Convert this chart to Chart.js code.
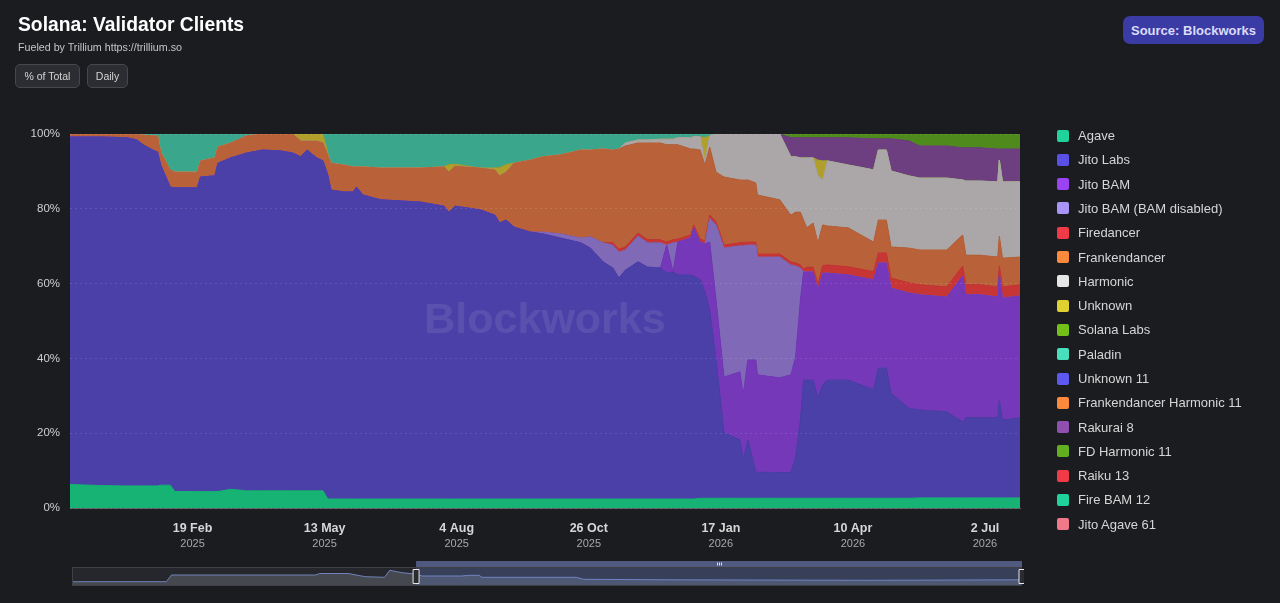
<!DOCTYPE html>
<html>
<head>
<meta charset="utf-8">
<title>Solana: Validator Clients</title>
<script src="https://cdn.jsdelivr.net/npm/chart.js@4.4.1/dist/chart.umd.min.js"></script>
<style>
  html, body { margin: 0; padding: 0; background: #1b1c20; }
  body { width: 1280px; height: 603px; position: relative; overflow: hidden; font-family: "Liberation Sans", Arial, sans-serif; }
  #main { position: absolute; left: 0; top: 0; }
  #nav { position: absolute; left: 72px; top: 558px; }
  .title { position: absolute; left: 18px; top: 14.7px; font-size: 19.3px; line-height: 1; font-weight: bold; color: #fff; white-space: nowrap; }
  .sub { position: absolute; left: 18px; top: 41.7px; font-size: 10.7px; line-height: 1; color: #c4c4c4; white-space: nowrap; }
  .btn { position: absolute; top: 64px; height: 24px; box-sizing: border-box; border: 1px solid #46484e; background: #2b2d32; border-radius: 5px; color: #d4d4d4; font-size: 10.5px; display: flex; align-items: center; justify-content: center; }
  .source { position: absolute; left: 1123px; top: 16px; width: 141px; height: 28px; background: #3b3ba6; border-radius: 7px; color: #dcdcfa; font-weight: bold; font-size: 13px; display: flex; align-items: center; justify-content: center; }
  #legend { position: absolute; left: 1057px; top: 123.4px; }
  .item { height: 24.3px; display: flex; align-items: center; font-size: 13px; color: #d6d6d6; white-space: nowrap; }
  .box { width: 12px; height: 12px; border-radius: 2px; margin-right: 9px; flex: none; }
</style>
</head>
<body>
<canvas id="main" width="1280" height="603"></canvas>
<canvas id="nav" width="952" height="30"></canvas>
<div class="title">Solana: Validator Clients</div>
<div class="sub">Fueled by Trillium https://trillium.so</div>
<div class="btn" style="left:15px;width:65px;">% of Total</div>
<div class="btn" style="left:87px;width:41px;">Daily</div>
<div class="source">Source: Blockworks</div>
<div id="legend"></div>
<script>
// share of validators per client, % of total
var dates = [
  '2024-12-04','2024-12-23','2025-01-09','2025-01-15','2025-01-19','2025-01-25','2025-01-28','2025-01-30','2025-02-05','2025-02-08',
  '2025-02-22','2025-02-24','2025-03-05','2025-03-07','2025-03-15','2025-03-25','2025-04-04','2025-04-15','2025-04-23','2025-04-28',
  '2025-05-02','2025-05-08','2025-05-12','2025-05-15','2025-05-17','2025-05-25','2025-05-31','2025-06-02','2025-06-06','2025-06-17',
  '2025-07-12','2025-07-27','2025-07-30','2025-08-03','2025-08-19','2025-08-28','2025-08-31','2025-09-04','2025-09-09','2025-09-19',
  '2025-09-27','2025-10-08','2025-10-21','2025-10-27','2025-11-04','2025-11-10','2025-11-14','2025-11-18','2025-11-26','2025-12-02',
  '2025-12-10','2025-12-14','2025-12-18','2025-12-21','2025-12-29','2025-12-31','2026-01-04','2026-01-07','2026-01-10','2026-01-14',
  '2026-01-19','2026-01-29','2026-01-31','2026-02-03','2026-02-08','2026-02-09','2026-02-23','2026-03-02','2026-03-05','2026-03-08',
  '2026-03-10','2026-03-12','2026-03-16','2026-03-19','2026-03-22','2026-03-25','2026-04-07','2026-04-23','2026-04-26','2026-05-01',
  '2026-05-04','2026-05-15','2026-05-22','2026-06-08','2026-06-18','2026-06-20','2026-06-29','2026-07-10','2026-07-11','2026-07-13',
  '2026-07-24'
];

var agave = [
  6.3,6.0,5.9,5.9,5.9,5.9,5.9,6.1,6.1,4.4,
  4.4,4.4,4.4,4.4,5.0,4.6,4.6,4.6,4.6,4.6,
  4.6,4.6,4.6,2.4,2.4,2.4,2.4,2.4,2.4,2.4,
  2.4,2.4,2.4,2.4,2.4,2.4,2.4,2.4,2.4,2.4,
  2.4,2.4,2.4,2.4,2.4,2.4,2.4,2.4,2.4,2.4,
  2.4,2.4,2.4,2.4,2.4,2.4,2.6,2.6,2.6,2.6,
  2.6,2.6,2.6,2.6,2.6,2.6,2.6,2.6,2.6,2.6,
  2.6,2.6,2.6,2.6,2.6,2.6,2.6,2.6,2.6,2.6,
  2.6,2.6,2.7,2.7,2.7,2.7,2.7,2.7,2.7,2.7,
  2.7
];
var jitoLabs = [
  92.9,93.2,93.1,92.5,91.2,89.8,89.3,85.6,79.7,81.2,
  81.2,84.1,84.4,87.8,88.6,90.3,91.1,90.9,90.3,89.3,
  91.1,89.0,88.2,86.6,82.6,82.1,82.1,83.4,81.3,80.0,
  79.4,78.3,76.7,78.3,77.3,75.9,73.8,74.6,72.7,71.4,
  70.9,69.8,68.5,67.1,63.4,61.8,59.1,61.2,63.4,62.0,
  61.8,60.4,60.7,59.9,59.9,59.6,58.4,55.2,50.3,37.0,
  17.5,15.6,10.2,15.6,7.0,7.0,6.8,6.8,11.0,20.9,
  31.6,31.6,31.6,26.8,30.3,31.6,31.6,29.0,34.8,34.8,
  28.1,24.1,23.5,23.0,20.3,21.4,21.4,21.4,26.2,20.8,
  21.4
];
var jitoBam = [
  0,0,0,0,0,0,0,0,0,0,
  0,0,0,0,0,0,0,0,0,0,
  0,0,0,0,0,0,0,0,0,0,
  0,0,0,0,0,0,0,0,0,0,
  0,0,0,0,0,0,0,0,0,0,
  0,7.5,0,8.8,9.9,12.9,10.1,12.8,18.2,16.0,
  14.9,18.2,17.4,21.4,30.0,26.0,25.4,26.2,26.8,32.1,
  28.9,28.9,28.9,28.9,29.9,28.6,28.1,29.4,28.1,28.1,
  28.1,30.8,30.8,30.7,39.0,32.9,32.9,32.3,33.4,32.6,
  32.6
];
var jitoBamDisabled = [
  0,0,0,0,0,0,0,0,0,0,
  0,0,0,0,0,0,0,0,0,0,
  0,0,0,0,0,0,0,0,0,0,
  0,0,0,0,0,0,0,0,0,0,
  0.5,1.1,1.3,3.0,5.1,6.1,6.9,5.4,6.9,6.5,
  6.7,0,7.8,0,0,0,0,0,6.4,20.1,
  34.5,33.7,39.9,30.7,30.7,31.5,32.3,29.4,24.3,8.6,
  0,0,0,0,0,0,0,0,0,0,
  0,0,0,0,0,0,0,0,0,0,
  0
];
var firedancer = [
  0,0,0,0,0,0,0,0,0,0,
  0,0,0,0,0,0,0,0,0,0,
  0,0,0,0,0,0,0,0,0,0,
  0,0,0,0,0,0,0,0,0,0,
  0,0,0,0,0,0.7,0.8,0.8,0.8,0.8,
  0.8,0.8,0.8,0.8,0.8,0.8,0.8,0.8,0.8,0.8,
  0.8,0.8,0.8,0.8,0.8,0.8,0.8,0.8,0.8,0.8,
  0.8,1.3,1.3,1.6,2.0,2.2,2.2,2.2,2.7,2.7,
  2.7,2.7,2.7,2.7,2.7,2.7,2.7,2.7,2.4,3.0,
  3.0
];
var frankendancer = [
  0.8,0.8,1.0,1.5,2.6,3.8,4.3,3.5,4.6,4.2,
  4.2,4.3,4.8,4.3,4.0,4.6,4.3,4.5,5.1,4.2,
  2.4,4.5,4.8,5.4,7.2,7.2,6.7,5.4,7.5,8.5,
  9.1,10.5,10.7,10.7,11.2,12.1,12.6,12.8,17.1,19.2,
  20.1,21.1,23.5,23.2,25.1,24.7,26.8,27.0,24.1,25.9,
  25.9,26.0,25.4,25.2,23.0,20.3,23.8,20.3,18.2,13.3,
  18.2,16.8,16.8,16.6,15.8,15.8,14.5,12.5,13.6,14.1,
  13.1,10.5,11.8,11.0,10.9,10.4,10.4,7.9,8.8,8.8,
  8.3,9.3,9.3,9.9,8.3,7.9,7.9,8.0,8.0,7.7,
  7.4
];
var harmonic = [
  0,0,0,0,0,0,0,0,0,0,
  0,0,0,0,0,0,0,0,0,0,
  0,0,0,0,0,0,0,0,0,0,
  0,0,0,0,0,0,0,0,0,0,
  0,0,0,0,0,0,0,0.8,0.8,0.8,
  1.0,1.5,1.5,1.9,3.0,3.3,3.6,1.0,3.0,10.2,
  11.5,12.3,12.3,12.3,13.1,16.3,17.6,15.6,14.8,14.5,
  16.6,18.7,17.4,18.1,12.0,17.4,16.8,19.3,18.7,18.7,
  20.3,19.3,19.2,19.2,14.7,19.8,19.8,20.1,20.3,20.4,
  20.1
];
var unknown = [
  0,0,0,0,0,0,0,0,0,0,
  0,0,0,0,0,0,0,0,0,1.9,
  1.9,1.9,2.4,0.5,0,0,0,0,0,0,
  0,0,2.0,0.5,0,0.5,2.2,2.0,0,0,
  0,0,0,0,0,0,0,0,0,0,
  0,0,0,0,0,0,0,6.3,0,0,
  0,0,0,0,0,0,0,0,0,0,
  0,0,0,4.0,5.1,0,0,0,0,0,
  0,0,0,0,0,0,0,0,0,0,
  0
];
var solanaLabs = [];
var paladin = [
  0,0,0,0.1,0.3,0.5,0.5,4.8,9.6,10.2,
  10.2,7.2,6.4,3.5,2.4,0.5,0,0,0,0,
  0,0,0,5.1,7.8,8.3,8.8,8.8,8.8,9.1,
  9.1,8.8,8.2,8.1,9.1,9.1,9.0,8.2,7.8,7.0,
  6.1,5.6,4.3,4.3,4.0,4.3,4.0,2.4,1.6,1.6,
  1.4,1.4,1.4,1.0,1.0,0.7,0.7,1.0,0.5,0,
  0,0,0,0,0,0,0,0,0,0,
  0,0,0,0,0,0,0,0,0,0,
  0,0,0,0,0,0,0,0,0,0,
  0
];
var unknown11 = [];
var frankHarmonic11 = [];
var rakurai8 = [
  0,0,0,0,0,0,0,0,0,0,
  0,0,0,0,0,0,0,0,0,0,
  0,0,0,0,0,0,0,0,0,0,
  0,0,0,0,0,0,0,0,0,0,
  0,0,0,0,0,0,0,0,0,0,
  0,0,0,0,0,0,0,0,0,0,
  0,0,0,0,0,0,0,5.1,5.1,5.4,
  5.4,5.4,5.4,6.0,6.2,6.2,7.3,8.3,3.0,3.0,
  8.6,9.4,8.6,8.6,8.6,8.9,8.9,8.8,3.0,8.8,
  8.8
];
var fdHarmonic11 = [
  0,0,0,0,0,0,0,0,0,0,
  0,0,0,0,0,0,0,0,0,0,
  0,0,0,0,0,0,0,0,0,0,
  0,0,0,0,0,0,0,0,0,0,
  0,0,0,0,0,0,0,0,0,0,
  0,0,0,0,0,0,0,0,0,0,
  0,0,0,0,0,0,0,1.0,1.0,1.0,
  1.0,1.0,1.0,1.0,1.0,1.0,1.0,1.3,1.3,1.3,
  1.3,1.8,3.2,3.2,3.7,3.7,3.7,4.0,4.0,4.0,
  4.0
];
var raiku13 = [];
var fireBam12 = [];
var jitoAgave61 = [];

var names = ['Agave', 'Jito Labs', 'Jito BAM', 'Jito BAM (BAM disabled)', 'Firedancer', 'Frankendancer',
  'Harmonic', 'Unknown', 'Solana Labs', 'Paladin', 'Unknown 11', 'Frankendancer Harmonic 11',
  'Rakurai 8', 'FD Harmonic 11', 'Raiku 13', 'Fire BAM 12', 'Jito Agave 61'];
var series = [agave, jitoLabs, jitoBam, jitoBamDisabled, firedancer, frankendancer,
  harmonic, unknown, solanaLabs, paladin, unknown11, frankHarmonic11,
  rakurai8, fdHarmonic11, raiku13, fireBam12, jitoAgave61];

// x axis ticks
var tickDates = ['2025-02-19', '2025-05-13', '2025-08-04', '2025-10-26', '2026-01-17', '2026-04-10', '2026-07-02'];
var tickDays = ['19 Feb', '13 May', '4 Aug', '26 Oct', '17 Jan', '10 Apr', '2 Jul'];
var tickYears = ['2025', '2025', '2025', '2025', '2026', '2026', '2026'];

// overview strip under the chart
var navDates = ['2023-12-31','2024-04-02','2024-04-07','2024-08-27','2024-08-31','2024-09-28','2024-10-15','2024-11-03','2024-11-08','2024-11-20',
  '2024-12-03','2024-12-10','2025-01-18','2025-01-25','2025-02-04','2025-02-07','2025-05-11','2025-05-18','2025-08-11','2026-02-24','2026-07-24'];
var navValues = [4.3,4.3,11,11,12.5,12.5,9.3,8.7,15.7,13.3,12,10,10,10.7,10.7,8.7,8.7,6.7,6.2,5.7,6.2];

// colours
var fillColors = ['#17b374', '#4a40a8', '#7438b9', '#8069b7', '#c83535', '#b96239',
  '#aba7a9', '#b09f2a', '#5b9a1f', '#3aa78c', '#4a46c0', '#b96239',
  '#6e3f80', '#4f8a1d', '#c83535', '#17b374', '#c8606e'];
var legendColors = ['#1ed49b', '#5b50e6', '#9b42f5', '#a995f7', '#f03a48', '#fd8a3c',
  '#e6e6e6', '#e0d030', '#72c018', '#48e0bc', '#5c58f0', '#fd8a3c',
  '#9050b0', '#62b020', '#f03a48', '#1ed49b', '#f07888'];

var FONT = '"Liberation Sans", Arial, sans-serif';
var xMin = Date.parse(dates[0]);
var xMax = Date.parse(dates[dates.length - 1]);

var datasets = names.map(function(name, i) {
  return {
    label: name,
    data: series[i].map(function(v, j) { return {x: Date.parse(dates[j]), y: v}; }),
    fill: 'stack',
    backgroundColor: fillColors[i],
    borderColor: fillColors[i],
    borderWidth: 1,
    pointRadius: 0,
    tension: 0
  };
});

var watermark = {
  id: 'watermark',
  afterDatasetsDraw: function(c) {
    var a = c.chartArea, ctx = c.ctx;
    ctx.save();
    ctx.font = 'bold 43px ' + FONT;
    ctx.fillStyle = 'rgba(255,255,255,0.09)';
    ctx.textAlign = 'center';
    ctx.textBaseline = 'alphabetic';
    ctx.fillText('Blockworks', (a.left + a.right) / 2, (a.top + a.bottom) / 2 + 12);
    ctx.restore();
  }
};

// two line date labels under the axis
var xLabels = {
  id: 'xLabels',
  afterDraw: function(c) {
    var sx = c.scales.x, ctx = c.ctx;
    ctx.save();
    ctx.textAlign = 'center';
    ctx.textBaseline = 'middle';
    tickDates.forEach(function(d, i) {
      var px = sx.getPixelForValue(Date.parse(d));
      ctx.font = 'bold 12.5px ' + FONT;
      ctx.fillStyle = '#d6d6d6';
      ctx.fillText(tickDays[i], px, sx.bottom + 21);
      ctx.font = '11px ' + FONT;
      ctx.fillStyle = '#a8a8a8';
      ctx.fillText(tickYears[i], px, sx.bottom + 36);
    });
    ctx.restore();
  }
};

var chart = new Chart(document.getElementById('main'), {
  type: 'line',
  data: { datasets: datasets },
  options: {
    responsive: false,
    animation: false,
    layout: { padding: { left: 0, top: 134, right: 260, bottom: 95 } },
    plugins: { legend: { display: false }, tooltip: { enabled: false } },
    scales: {
      x: {
        type: 'linear',
        min: xMin,
        max: xMax,
        ticks: { display: false },
        grid: { display: false },
        border: { display: true, color: '#5b5e64' },
        afterFit: function(s) { s.height = 0; }
      },
      y: {
        stacked: true,
        min: 0,
        max: 100,
        ticks: {
          stepSize: 20,
          padding: 10,
          color: '#cfcfcf',
          font: { family: FONT, size: 11.5 },
          callback: function(v) { return v + '%'; }
        },
        grid: { color: 'rgba(255,255,255,0.12)', drawTicks: false, z: 1 },
        border: { display: false, dash: [2, 3] },
        afterFit: function(s) { s.width = 70; }
      }
    }
  },
  plugins: [watermark, xLabels]
});

// html legend
var legendEl = document.getElementById('legend');
names.forEach(function(name, i) {
  var item = document.createElement('div');
  item.className = 'item';
  var box = document.createElement('span');
  box.className = 'box';
  box.style.background = legendColors[i];
  item.appendChild(box);
  item.appendChild(document.createTextNode(name));
  legendEl.appendChild(item);
});

// overview window: the selected part is the main chart range
var navWindow = {
  id: 'navWindow',
  beforeDatasetsDraw: function(c) {
    var a = c.chartArea, ctx = c.ctx;
    ctx.save();
    ctx.fillStyle = '#25272c';
    ctx.fillRect(a.left, a.top, a.right - a.left, a.bottom - a.top);
    ctx.restore();
  },
  afterDatasetsDraw: function(c) {
    var a = c.chartArea, ctx = c.ctx, sx = c.scales.x;
    var x0 = sx.getPixelForValue(xMin), x1 = sx.getPixelForValue(xMax);
    ctx.save();
    ctx.fillStyle = 'rgba(110,135,220,0.26)';
    ctx.fillRect(x0, a.top, x1 - x0, a.bottom - a.top);
    ctx.strokeStyle = '#3e4046';
    ctx.lineWidth = 1;
    ctx.strokeRect(a.left + 0.5, a.top + 0.5, a.right - a.left - 1, a.bottom - a.top - 1);
    ctx.fillStyle = '#4f5a7e';
    ctx.fillRect(x0, a.top - 6, x1 - x0, 6);
    var mid = (x0 + x1) / 2;
    ctx.fillStyle = '#dfe3f0';
    [-2, 0, 2].forEach(function(o) { ctx.fillRect(mid + o, a.top - 4.5, 1, 3); });
    [x0, x1].forEach(function(hx) {
      ctx.beginPath();
      ctx.rect(hx - 3, a.top + 2.5, 6, 14);
      ctx.fillStyle = '#2a2c31';
      ctx.fill();
      ctx.strokeStyle = '#e8e8e8';
      ctx.stroke();
    });
    ctx.restore();
  }
};

new Chart(document.getElementById('nav'), {
  type: 'line',
  data: {
    datasets: [{
      data: navValues.map(function(v, i) { return {x: Date.parse(navDates[i]), y: v}; }),
      fill: 'origin',
      backgroundColor: '#46484f',
      borderColor: '#7282b8',
      borderWidth: 1,
      pointRadius: 0,
      tension: 0
    }]
  },
  options: {
    responsive: false,
    animation: false,
    layout: { padding: { left: 0, right: 2, top: 9, bottom: 2 } },
    plugins: { legend: { display: false }, tooltip: { enabled: false } },
    scales: {
      x: { type: 'linear', display: false, min: Date.parse(navDates[0]), max: Date.parse(navDates[navDates.length - 1]) },
      y: { display: false, min: 0, max: 19 }
    }
  },
  plugins: [navWindow]
});
</script>
</body>
</html>
